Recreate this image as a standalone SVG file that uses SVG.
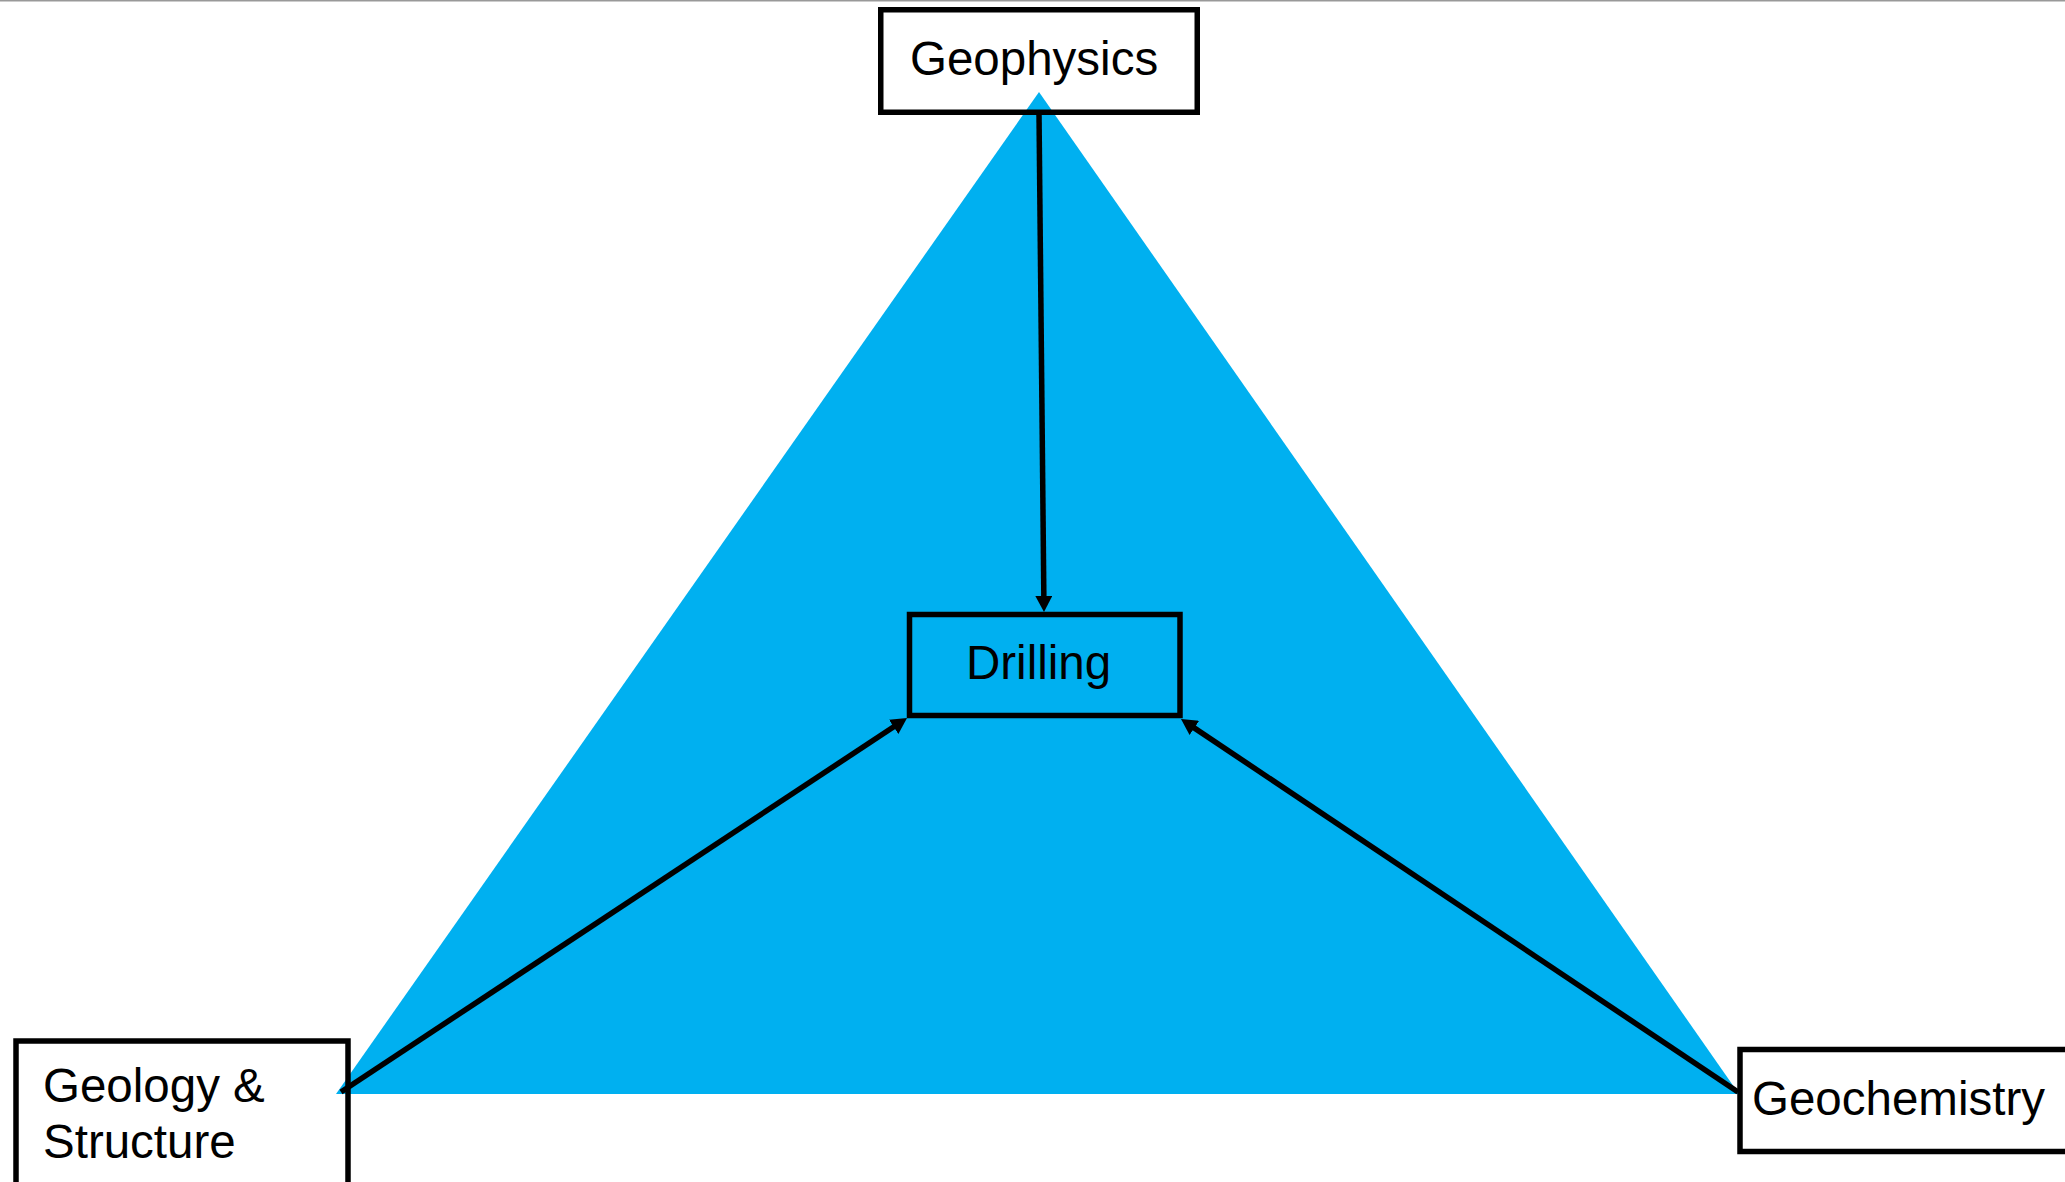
<svg xmlns="http://www.w3.org/2000/svg" width="2065" height="1182" viewBox="0 0 2065 1182">
<style>
.box{fill:none;stroke:#000;stroke-width:5.5}
.lbl{font-family:"Liberation Sans",Arial,sans-serif;font-size:47.5px;fill:#000}
.conn{stroke:#000;stroke-width:5.5;fill:none}
</style>
<defs>
<marker id="ah" markerUnits="userSpaceOnUse" markerWidth="17" markerHeight="17" refX="6" refY="8.5" orient="auto">
<path d="M0,0 L16,8.5 L0,17 z" fill="#000"/>
</marker>
</defs>
<rect width="2065" height="1182" fill="#fff"/>
<line x1="0" y1="0.75" x2="2065" y2="0.75" stroke="#999" stroke-width="1.5"/>
<polygon points="1039,92 1739,1094 336,1094" fill="#00B0F0"/>
<g id="drilling">
<rect class="box" x="909.5" y="614.5" width="270.5" height="101"/>
<text class="lbl" x="966" y="679">Drilling</text>
</g>
<g id="connectors">
<path class="conn" d="M1039,113 L1043.9,602" marker-end="url(#ah)"/>
<path class="conn" d="M341,1092 L898.7,723.5" marker-end="url(#ah)"/>
<path class="conn" d="M1738,1092 L1189.3,724.6" marker-end="url(#ah)"/>
</g>
<g id="geophysics">
<rect class="box" x="880.75" y="9.75" width="316.5" height="102.5"/>
<text class="lbl" x="910" y="75">Geophysics</text>
</g>
<g id="geology">
<rect class="box" x="16" y="1041" width="332" height="200"/>
<text class="lbl" x="43" y="1102">Geology &amp;</text>
<text class="lbl" x="43" y="1158">Structure</text>
</g>
<g id="geochemistry">
<rect class="box" x="1740" y="1049.5" width="400" height="102"/>
<text class="lbl" x="1752" y="1115">Geochemistry</text>
</g>
</svg>
